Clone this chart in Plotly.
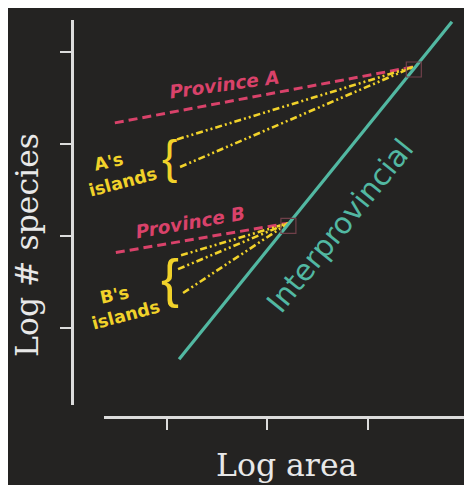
import plotly.graph_objects as go

# The page places the figure 8px from the top-left corner (body margin),
# so the figure is sized to fill the rest of the 472x485 window.
OFF = 8
W, H = 472 - OFF, 485 - OFF

# ---- data (log area, log # species) ----
x_ticks = [1, 2, 3, 4]
y_ticks = [1, 2, 3, 4]

inter_x = [1.12, 3.84]
inter_y = [0.66, 4.33]

provA_x = [0.48, 3.46]
provA_y = [3.23, 3.84]
islA1_x = [1.10, 3.46]
islA1_y = [3.05, 3.84]
islA2_x = [1.13, 3.46]
islA2_y = [2.75, 3.84]

provB_x = [0.49, 2.21]
provB_y = [1.82, 2.14]
islB1_x = [1.14, 2.21]
islB1_y = [1.79, 2.14]
islB2_x = [1.11, 2.21]
islB2_y = [1.64, 2.14]
islB3_x = [1.16, 2.21]
islB3_y = [1.38, 2.14]

box_x = [3.46, 2.21]
box_y = [3.81, 2.11]

RED = "#d9426a"
YEL = "#f1d22a"
TEAL = "#52b8a2"
AXC = "#dcdcdc"
BG = "#242322"

def px(x):
    return (x - OFF) / W

def py(y):
    return 1 - (y - OFF) / H

fig = go.Figure()

def line(xs, ys, color, dash, width=3):
    fig.add_trace(go.Scatter(x=xs, y=ys, mode="lines",
                             line=dict(color=color, width=width, dash=dash),
                             showlegend=False, hoverinfo="skip"))

DD = "7px,3px,2px,3px,2px,3px"
line(provA_x, provA_y, RED, "9px,5px")
line(islA1_x, islA1_y, YEL, DD, 2.6)
line(islA2_x, islA2_y, YEL, DD, 2.6)
line(provB_x, provB_y, RED, "9px,5px")
line(islB1_x, islB1_y, YEL, DD, 2.6)
line(islB2_x, islB2_y, YEL, DD, 2.6)
line(islB3_x, islB3_y, YEL, DD, 2.6)
line(inter_x, inter_y, TEAL, "solid", 3.2)

fig.add_trace(go.Scatter(x=box_x, y=box_y, mode="markers",
                         marker=dict(symbol="square-open", size=15,
                                     color="#70404a", line=dict(width=1.2)),
                         showlegend=False, hoverinfo="skip"))

fig.update_layout(
    width=W, height=H,
    margin=dict(l=0, r=0, t=0, b=0),
    paper_bgcolor=BG,
    plot_bgcolor="rgba(0,0,0,0)",
    xaxis=dict(domain=[px(104), px(468)], range=[0.372, 4.0],
               anchor="free", position=py(417),
               showline=True, linecolor=AXC, linewidth=3,
               ticks="outside", ticklen=11, tickwidth=2, tickcolor=AXC,
               tickvals=x_ticks, showticklabels=False,
               showgrid=False, zeroline=False, fixedrange=True),
    yaxis=dict(domain=[py(405), py(20)], range=[0.163, 4.348],
               anchor="free", position=px(72),
               showline=True, linecolor=AXC, linewidth=3,
               ticks="outside", ticklen=11, tickwidth=2, tickcolor=AXC,
               tickvals=y_ticks, showticklabels=False,
               showgrid=False, zeroline=False, fixedrange=True),
)

def ann(text, x, y, color, size, angle=0, family="DejaVu Sans", weight="bold", style="normal"):
    fig.add_annotation(text=text, x=px(x), y=py(y), xref="paper", yref="paper",
                       xanchor="center", yanchor="middle", showarrow=False,
                       textangle=angle,
                       font=dict(family=family, size=size, color=color,
                                 weight=weight, style=style))

ann("Province A", 224, 84, RED, 18.5, -8, style="italic")
ann("Province B", 190, 222, RED, 18.5, -10, style="italic")
ann("A's", 108, 162, YEL, 17.5, -12)
ann("islands", 123, 182, YEL, 17.5, -15)
ann("B's", 114, 295, YEL, 17.5, -12)
ann("islands", 126, 315, YEL, 17.5, -15)
ann("{", 169, 157, YEL, 46, 0, family="Liberation Sans", weight="normal")
ann("{", 170, 278, YEL, 54, 0, family="Liberation Sans", weight="normal")
ann("Interprovincial", 340, 226, TEAL, 29.5, -51, weight="normal")
ann("Log # species", 27, 245, "#e8e8e8", 31.5, -90, family="DejaVu Serif", weight="normal")
ann("Log area", 286, 465, "#e8e8e8", 31.5, 0, family="DejaVu Serif", weight="normal")

fig.write_html("out.html")
